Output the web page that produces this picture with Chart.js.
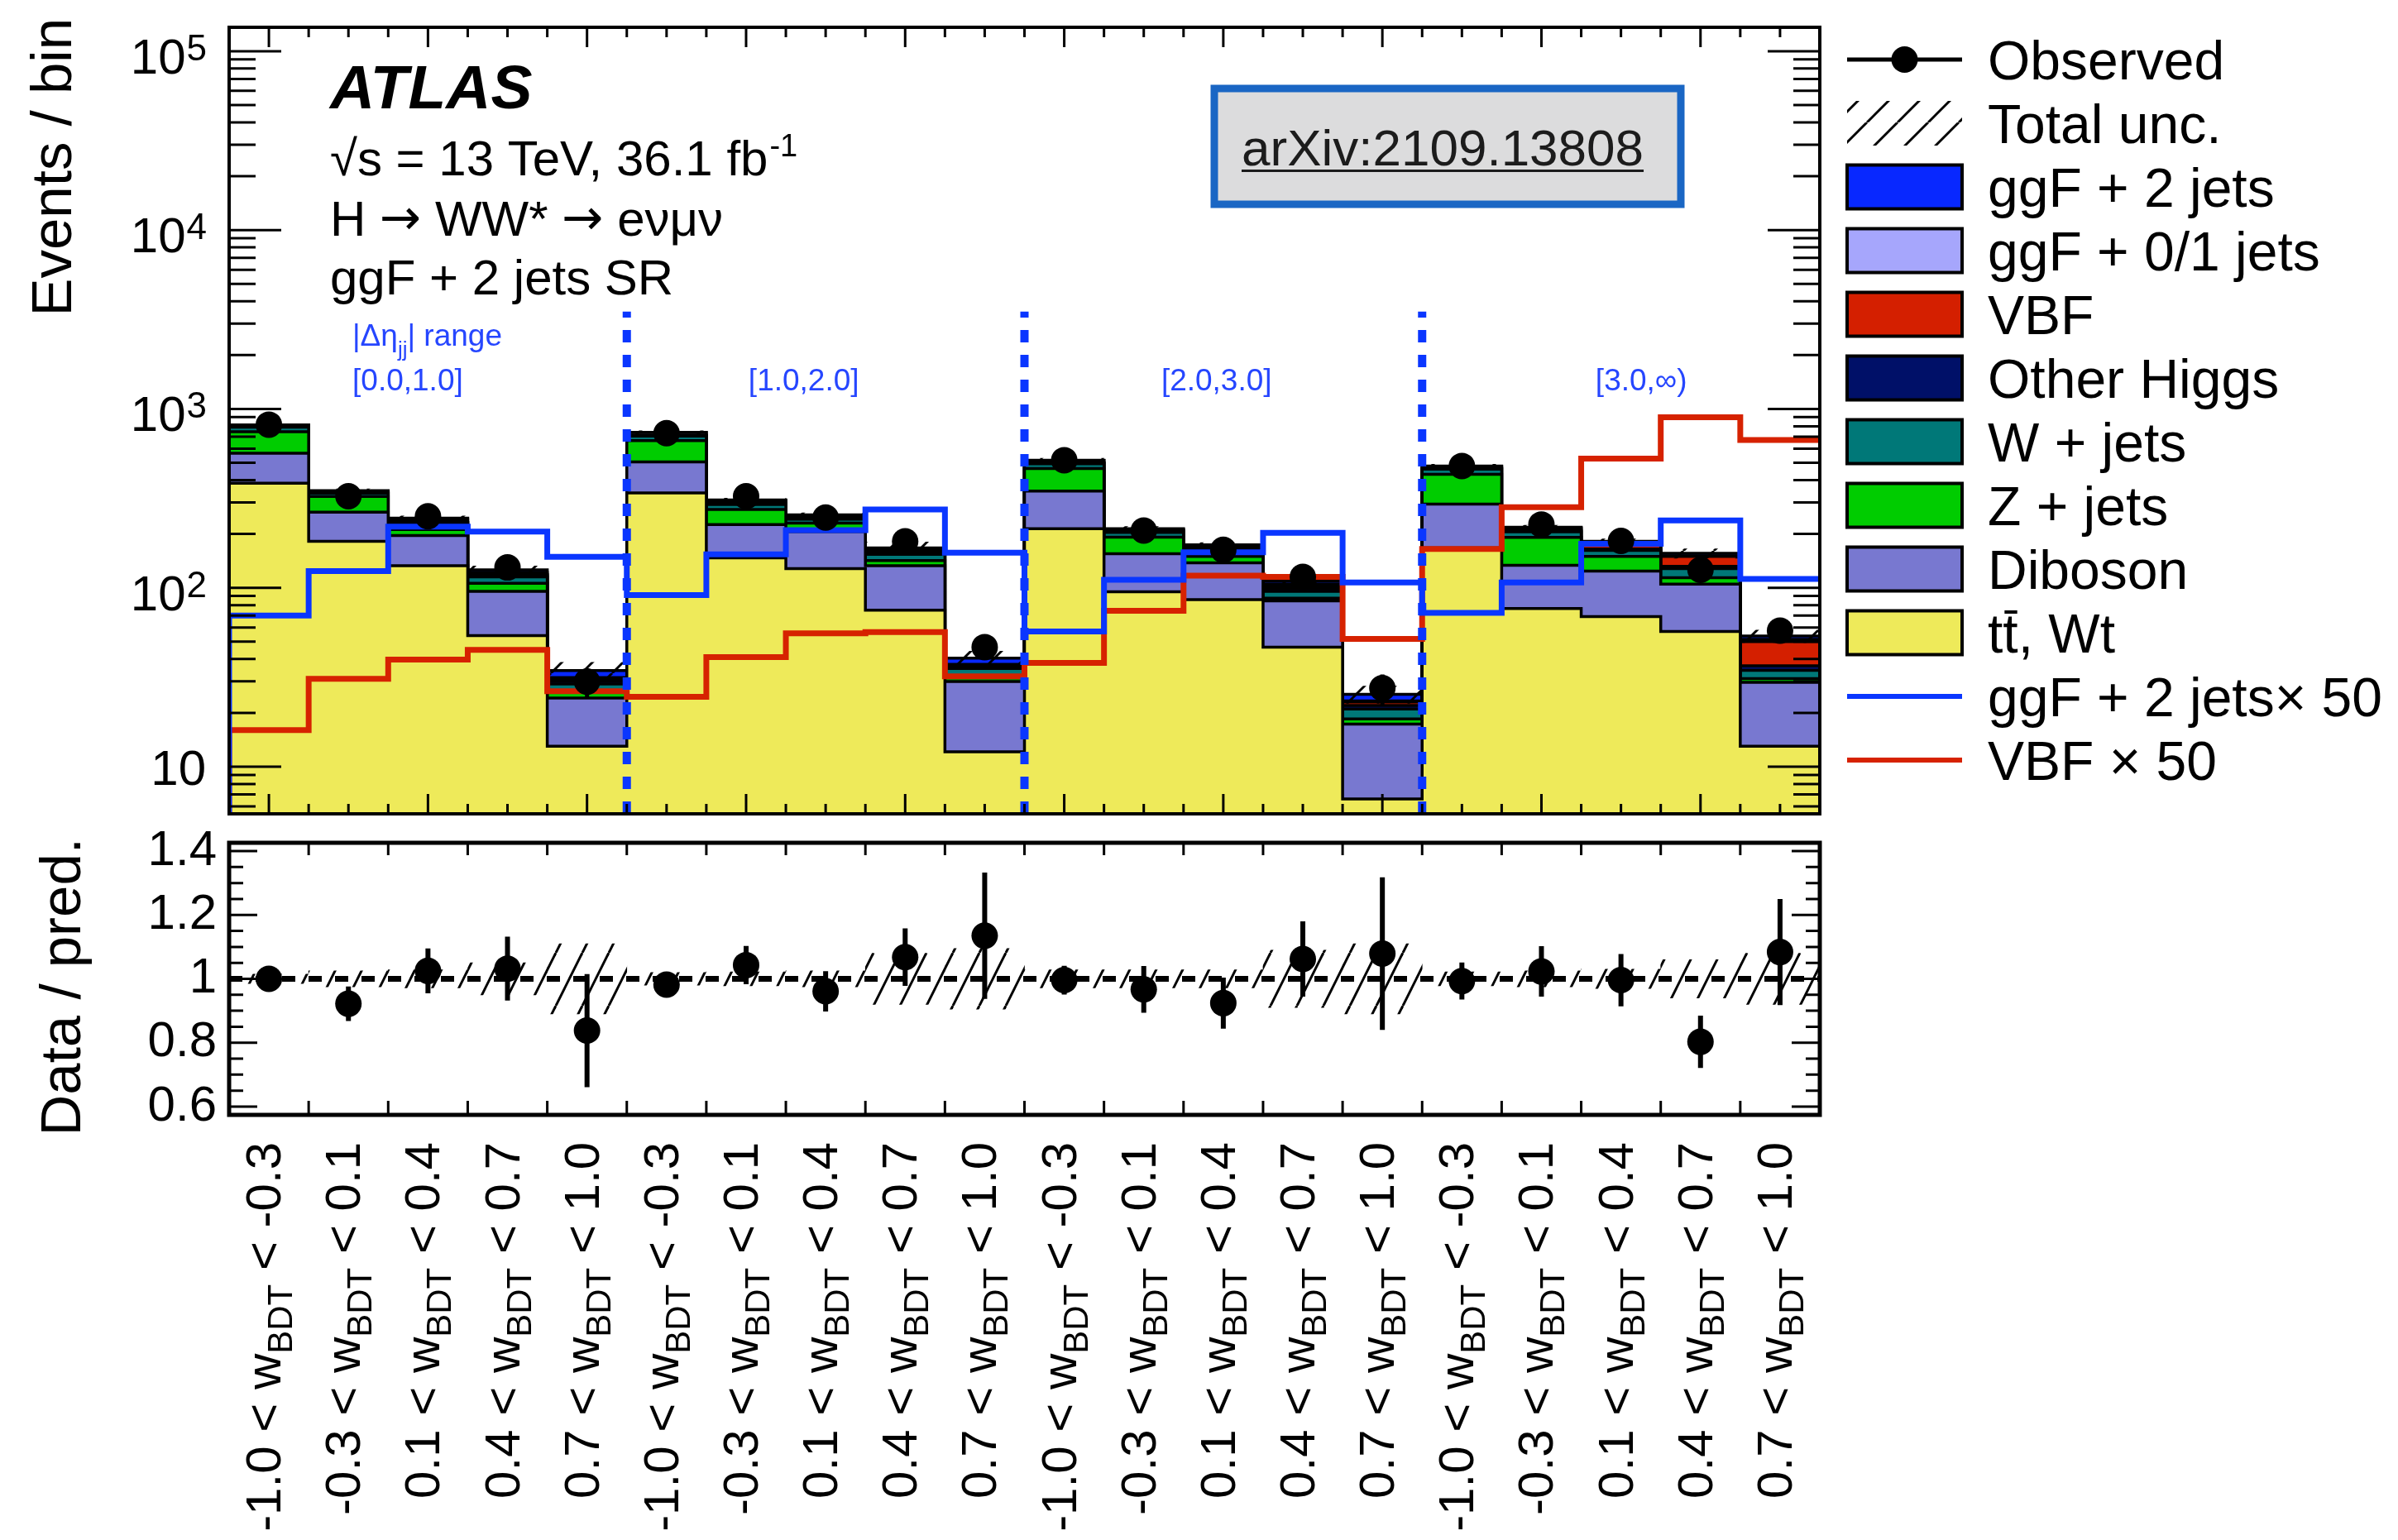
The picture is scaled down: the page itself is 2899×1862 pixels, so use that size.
<!DOCTYPE html>
<html>
<head>
<meta charset="utf-8">
<title>ggF + 2 jets SR</title>
<script src="https://cdn.jsdelivr.net/npm/chart.js@4/dist/chart.umd.min.js"></script>
<style>
  html, body { margin: 0; padding: 0; background: #fff; }
  #wrap { position: relative; width: 2899px; height: 1862px; overflow: hidden; background: #fff; }
  canvas { position: absolute; left: 0; }
  #main-chart { top: 0; }
  #ratio-chart { top: 960px; }
</style>
</head>
<body>
<div id="wrap">
  <canvas id="main-chart" width="2899" height="1000"></canvas>
  <canvas id="ratio-chart" width="2899" height="902"></canvas>
</div>
<script>
// bins: 4 |deta_jj| ranges x 5 w_BDT ranges
var bdtEdges = ["-1.0", "-0.3", "0.1", "0.4", "0.7", "1.0"];
var detaRanges = ["[0.0,1.0]", "[1.0,2.0]", "[2.0,3.0]", "[3.0,\u221e)"];

// stacked predictions, bottom to top (events / bin)
var ttbarWt    = [384, 182, 133, 54, 13, 339, 147, 128, 75, 12.1, 214, 95, 86, 46.6, 6.6, 167, 76.5, 69, 57, 13];
var diboson    = [181, 83, 63, 41.5, 11.2, 166, 79, 78, 58, 17.8, 133, 60, 52, 38, 10.7, 127, 57, 55, 48, 16.6];
var zJets      = [180, 59, 16, 10.5, 1.8, 160, 48, 24, 9, 1.5, 117, 37, 12, 3, 1.2, 137, 58, 26, 9, 1.5];
var wJets      = [45, 14, 14, 9, 3, 40, 18, 12, 12, 4, 30, 12, 10, 8, 2.5, 30, 14, 12, 14, 3.5];
var otherHiggs = [8, 3, 5, 3, 1, 8, 4, 3, 3, 1, 6, 3, 3, 3, 1, 5, 3, 3, 4, 2];
var vbf        = [0.3, 0.6, 0.8, 0.9, 0.5, 0.5, 0.8, 1.1, 1.1, 0.6, 0.8, 1.5, 2.3, 2.3, 1, 3.3, 5.6, 10.6, 18, 13.4];
var ggf01      = [15, 5, 9, 3, 1, 25, 10, 5.7, 3.4, 0.3, 14, 3.3, 5.5, 4, 0.3, 9, 2, 3, 1, 1.5];
var ggf2j      = [1.4, 2.5, 4.4, 4.1, 3, 1.8, 3.1, 4.2, 5.5, 3.1, 1.1, 2.2, 3.2, 4, 2.1, 1.5, 2.1, 3.5, 4.8, 2.2];

// signal shapes scaled by 50
var ggf2jX50 = [70, 124, 220, 206, 149, 91, 154, 210, 274, 157, 57, 111, 158, 203, 107, 72.5, 107, 176, 238, 112];
var vbfX50   = [16, 31, 39.7, 45, 26.4, 24.6, 41, 55.6, 56.6, 32, 38, 74.4, 117, 115, 51.8, 165, 282, 528, 899, 670];

// data
var observed = [817, 325, 251, 130, 29.9, 732, 325, 247, 182, 46.6, 517, 209, 163, 115, 27.5, 480, 226, 183, 126, 57.6];
var observedErr = [29, 18, 16, 11.5, 5.5, 27, 18, 16, 13.5, 7, 23, 14.5, 13, 10.7, 5.3, 22, 15, 13.5, 11.2, 7.6];

// ratio panel
var ratio    = [1.0, 0.922, 1.025, 1.032, 0.838, 0.982, 1.043, 0.961, 1.068, 1.135, 0.996, 0.967, 0.924, 1.062, 1.079, 0.993, 1.023, 0.996, 0.803, 1.084];
var ratioErr = [0.035, 0.054, 0.07, 0.1, 0.177, 0.037, 0.06, 0.063, 0.09, 0.198, 0.045, 0.073, 0.08, 0.118, 0.239, 0.058, 0.079, 0.082, 0.082, 0.166];
var uncRel   = [0.015, 0.025, 0.028, 0.05, 0.11, 0.02, 0.022, 0.025, 0.08, 0.095, 0.028, 0.028, 0.028, 0.09, 0.11, 0.022, 0.025, 0.03, 0.06, 0.08];

var mainDecades = [1, 2, 3, 4, 5];
var ratioTicks = [0.6, 0.8, 1.0, 1.2, 1.4];
var separators = [5, 10, 15];

var FONT = "'Liberation Sans', Arial, Helvetica, sans-serif";
var SYM = "'DejaVu Sans', sans-serif";
var Y_MIN = 5.45, Y_MAX = 1.36e5, SEP_TOP = 3500;
var R_MIN = 0.574, R_MAX = 1.426;

var C_TT = "#eeea5a", C_DIB = "#7878d0", C_Z = "#00cc00", C_W = "#007878";
var C_OH = "#001068", C_VBF = "#d41f00", C_GGF01 = "#a6a6fc", C_GGF2J = "#0828ff";
var C_SIGBLUE = "#0a36ff", C_SIGRED = "#d62200", C_TXTBLUE = "#2646ff";

(function () {
  function stepPoints(values) {
    var pts = values.map(function (v, i) { return { x: i, y: v }; });
    pts.push({ x: values.length, y: values[values.length - 1] });
    return pts;
  }

  function makeHatch(w, h, lw) {
    var c = document.createElement("canvas");
    c.width = w; c.height = h;
    var g = c.getContext("2d");
    g.strokeStyle = "#000";
    g.lineWidth = lw;
    for (var k = -1; k <= 1; k++) {
      g.beginPath();
      g.moveTo(k * w, h);
      g.lineTo(k * w + w, 0);
      g.stroke();
    }
    return g.createPattern(c, "repeat");
  }

  var hatchMain = makeHatch(37, 37, 3);
  var hatchRatio = makeHatch(32, 64, 3);

  function drawParts(ctx, x, y, parts) {
    // parts: [text, fontPx, dy, family]
    parts.forEach(function (p) {
      ctx.font = p[1] + "px " + (p[3] || FONT);
      ctx.fillText(p[0], x, y + p[2]);
      x += ctx.measureText(p[0]).width;
    });
    return x;
  }

  function drawErrorBars(chart, values, errs, lw) {
    var ctx = chart.ctx, xs = chart.scales.x, ys = chart.scales.y;
    ctx.save();
    ctx.strokeStyle = "#000";
    ctx.lineWidth = lw;
    ctx.beginPath();
    values.forEach(function (v, i) {
      var px = xs.getPixelForValue(i + 0.5);
      ctx.moveTo(px, ys.getPixelForValue(v + errs[i]));
      ctx.lineTo(px, ys.getPixelForValue(Math.max(v - errs[i], ys.min)));
    });
    ctx.stroke();
    ctx.restore();
  }

  function drawLegend(ctx) {
    var items = [
      { label: "Observed", kind: "data" },
      { label: "Total unc.", kind: "hatch" },
      { label: "ggF + 2 jets", kind: "box", color: C_GGF2J },
      { label: "ggF + 0/1 jets", kind: "box", color: C_GGF01 },
      { label: "VBF", kind: "box", color: C_VBF },
      { label: "Other Higgs", kind: "box", color: C_OH },
      { label: "W + jets", kind: "box", color: C_W },
      { label: "Z + jets", kind: "box", color: C_Z },
      { label: "Diboson", kind: "box", color: C_DIB },
      { label: "tt, Wt", kind: "box", color: C_TT, bar: true },
      { label: "ggF + 2 jets\u00d7 50", kind: "line", color: C_SIGBLUE },
      { label: "VBF \u00d7 50", kind: "line", color: C_SIGRED }
    ];
    var bx = 2233, bw = 139, bh = 53, tx = 2403;
    ctx.save();
    items.forEach(function (it, k) {
      var cy = 72 + k * 77;
      if (it.kind === "data") {
        ctx.strokeStyle = "#000"; ctx.lineWidth = 5;
        ctx.beginPath(); ctx.moveTo(bx, cy); ctx.lineTo(bx + bw, cy); ctx.stroke();
        ctx.fillStyle = "#000";
        ctx.beginPath(); ctx.arc(bx + bw / 2, cy, 16, 0, Math.PI * 2); ctx.fill();
      } else if (it.kind === "hatch") {
        ctx.fillStyle = hatchMain;
        ctx.fillRect(bx, cy - 27, bw, 54);
      } else if (it.kind === "box") {
        ctx.fillStyle = it.color;
        ctx.fillRect(bx, cy - bh / 2, bw, bh);
        ctx.strokeStyle = "#000"; ctx.lineWidth = 4;
        ctx.strokeRect(bx, cy - bh / 2, bw, bh);
      } else {
        ctx.strokeStyle = it.color; ctx.lineWidth = 6;
        ctx.beginPath(); ctx.moveTo(bx, cy); ctx.lineTo(bx + bw, cy); ctx.stroke();
      }
      ctx.fillStyle = "#000";
      ctx.font = "66px " + FONT;
      ctx.textAlign = "left";
      ctx.textBaseline = "alphabetic";
      ctx.fillText(it.label, tx, cy + 24);
      if (it.bar) {
        var tw = ctx.measureText("t").width;
        ctx.fillRect(tx + tw + 2, cy - 27, tw - 3, 4);
      }
    });
    ctx.restore();
  }

  var mainDecor = {
    id: "mainDecor",
    afterDatasetsDraw: function (chart) {
      drawErrorBars(chart, observed, observedErr, 5);
    },
    afterDraw: function (chart) {
      var ctx = chart.ctx, a = chart.chartArea, xs = chart.scales.x, ys = chart.scales.y;
      ctx.save();
      // inward ticks
      ctx.strokeStyle = "#000";
      ctx.lineWidth = 3;
      ctx.beginPath();
      for (var d = 0; d <= 5; d++) {
        for (var m = 1; m <= 9; m++) {
          var v = m * Math.pow(10, d);
          if (v < Y_MIN || v > Y_MAX) continue;
          var py = ys.getPixelForValue(v), len = m === 1 ? 63 : 32;
          ctx.moveTo(a.left, py); ctx.lineTo(a.left + len, py);
          ctx.moveTo(a.right, py); ctx.lineTo(a.right - len, py);
        }
      }
      for (var t = 0.5; t < 20; t += 0.5) {
        var px = xs.getPixelForValue(t), l2 = ((t - 0.5) % 2 === 0) ? 24 : 12;
        ctx.moveTo(px, a.bottom); ctx.lineTo(px, a.bottom - l2);
        ctx.moveTo(px, a.top); ctx.lineTo(px, a.top + l2);
      }
      ctx.stroke();
      ctx.lineWidth = 4;
      ctx.strokeRect(a.left, a.top, a.right - a.left, a.bottom - a.top);

      // y tick labels with exponents
      ctx.fillStyle = "#000";
      ctx.textBaseline = "alphabetic";
      mainDecades.forEach(function (dd) {
        var py2 = ys.getPixelForValue(Math.pow(10, dd));
        if (dd === 1) {
          ctx.font = "60px " + FONT; ctx.textAlign = "right";
          ctx.fillText("10", 249, py2 + 22);
        } else {
          ctx.font = "44px " + FONT; ctx.textAlign = "right";
          var sw = ctx.measureText(String(dd)).width;
          ctx.fillText(String(dd), 250, py2 + 11);
          ctx.font = "60px " + FONT;
          ctx.fillText("10", 250 - sw - 1, py2 + 27);
        }
      });

      // axis title
      ctx.save();
      ctx.translate(86, 22);
      ctx.rotate(-Math.PI / 2);
      ctx.font = "69px " + FONT;
      ctx.textAlign = "right";
      ctx.fillText("Events / bin", 0, 0);
      ctx.restore();

      // labels
      ctx.textAlign = "left";
      ctx.font = "italic bold 75px " + FONT;
      ctx.fillText("ATLAS", 399, 131);
      ctx.font = "60px " + FONT;
      var s1 = "\u221as = 13 TeV, 36.1 fb";
      ctx.fillText(s1, 399, 212);
      var w1 = ctx.measureText(s1).width;
      ctx.font = "38px " + FONT;
      ctx.fillText("-1", 399 + w1 + 2, 189);
      drawParts(ctx, 399, 285, [
        ["H ", 60, 0], ["\u2192", 60, -2, SYM], [" WW* ", 60, 0],
        ["\u2192", 60, -2, SYM], [" e\u03bd\u03bc\u03bd", 60, 0]
      ]);
      ctx.font = "60px " + FONT;
      ctx.fillText("ggF + 2 jets SR", 399, 356);

      // |deta_jj| ranges
      ctx.fillStyle = C_TXTBLUE;
      drawParts(ctx, 426, 418, [["|\u0394\u03b7", 37, 0], ["jj", 26, 13], ["| range", 37, 0]]);
      var rangeX = [1.55, 6.53, 11.72, 17.18];
      ctx.font = "37px " + FONT;
      detaRanges.forEach(function (r, k) {
        ctx.fillText(r, xs.getPixelForValue(rangeX[k]), 472);
      });

      // arXiv box
      ctx.fillStyle = "#dcdcdd";
      ctx.fillRect(1468, 107, 564, 140);
      ctx.strokeStyle = "#1a66c4";
      ctx.lineWidth = 9;
      ctx.strokeRect(1468, 107, 564, 140);
      ctx.fillStyle = "#1c1c1c";
      ctx.font = "62px " + FONT;
      var arx = "arXiv:2109.13808";
      ctx.fillText(arx, 1501, 200);
      ctx.fillRect(1501, 205, ctx.measureText(arx).width, 3);

      drawLegend(ctx);
      ctx.restore();
    }
  };

  var ratioDecor = {
    id: "ratioDecor",
    afterDatasetsDraw: function (chart) {
      drawErrorBars(chart, ratio, ratioErr, 6);
    },
    afterDraw: function (chart) {
      var ctx = chart.ctx, a = chart.chartArea, xs = chart.scales.x, ys = chart.scales.y;
      ctx.save();
      ctx.strokeStyle = "#000";
      ctx.lineWidth = 3;
      ctx.beginPath();
      for (var k = 12; k <= 28; k++) {
        var py = ys.getPixelForValue(k * 0.05), len = k % 4 === 0 ? 34 : 17;
        ctx.moveTo(a.left, py); ctx.lineTo(a.left + len, py);
        ctx.moveTo(a.right, py); ctx.lineTo(a.right - len, py);
      }
      for (var e = 1; e < 20; e++) {
        var px = xs.getPixelForValue(e);
        ctx.moveTo(px, a.bottom); ctx.lineTo(px, a.bottom - 17);
        ctx.moveTo(px, a.top); ctx.lineTo(px, a.top + 15);
      }
      ctx.stroke();
      ctx.lineWidth = 5;
      ctx.strokeRect(a.left, a.top, a.right - a.left, a.bottom - a.top);

      ctx.fillStyle = "#000";
      ctx.textBaseline = "alphabetic";
      ctx.save();
      ctx.translate(97, 1013 - 960);
      ctx.rotate(-Math.PI / 2);
      ctx.font = "69px " + FONT;
      ctx.textAlign = "right";
      ctx.fillText("Data / pred.", 0, 0);
      ctx.restore();

      // bin labels, rotated
      var topY = 1381 - 960;
      ctx.textAlign = "left";
      for (var i = 0; i < 20; i++) {
        var b = i % 5;
        var p1 = bdtEdges[b] + " < w", sub = "BDT", p2 = " < " + bdtEdges[b + 1];
        ctx.font = "60px " + FONT;
        var w1 = ctx.measureText(p1).width, w3 = ctx.measureText(p2).width;
        ctx.font = "42px " + FONT;
        var w2 = ctx.measureText(sub).width;
        var tot = w1 + w2 + w3;
        ctx.save();
        ctx.translate(xs.getPixelForValue(i + 0.5) + 14, topY);
        ctx.rotate(-Math.PI / 2);
        ctx.font = "60px " + FONT;
        ctx.fillText(p1, -tot, 0);
        ctx.font = "42px " + FONT;
        ctx.fillText(sub, -tot + w1, 14);
        ctx.font = "60px " + FONT;
        ctx.fillText(p2, -tot + w1 + w2, 0);
        ctx.restore();
      }
      ctx.restore();
    }
  };

  // ----- main panel datasets -----
  var stackDefs = [
    { values: ttbarWt, color: C_TT },
    { values: diboson, color: C_DIB },
    { values: zJets, color: C_Z },
    { values: wJets, color: C_W },
    { values: otherHiggs, color: C_OH },
    { values: vbf, color: C_VBF },
    { values: ggf01, color: C_GGF01 },
    { values: ggf2j, color: C_GGF2J }
  ];
  var mainSets = [];
  var cum = ttbarWt.map(function () { return 0; });
  stackDefs.forEach(function (d, k) {
    cum = cum.map(function (c, i) { return c + d.values[i]; });
    mainSets.push({
      type: "line",
      data: stepPoints(cum),
      stepped: true,
      fill: "start",
      backgroundColor: d.color,
      borderColor: "#000",
      borderWidth: 3.5,
      pointRadius: 0,
      order: 100 + k
    });
  });
  var total = cum;

  mainSets.push({
    type: "bar",
    data: total.map(function (t, i) {
      return { x: i + 0.5, y: [t * (1 - uncRel[i]), t * (1 + uncRel[i])] };
    }),
    backgroundColor: hatchMain,
    borderWidth: 0,
    barPercentage: 1,
    categoryPercentage: 1,
    grouped: false,
    order: 50
  });

  [[ggf2jX50, C_SIGBLUE], [vbfX50, C_SIGRED]].forEach(function (s) {
    mainSets.push({
      type: "line",
      data: [{ x: 0, y: Y_MIN }].concat(stepPoints(s[0])),
      stepped: true,
      fill: false,
      borderColor: s[1],
      borderWidth: 7,
      pointRadius: 0,
      order: 10
    });
  });

  separators.forEach(function (sx) {
    mainSets.push({
      type: "line",
      data: [{ x: sx, y: Y_MIN }, { x: sx, y: SEP_TOP }],
      borderColor: C_SIGBLUE,
      borderWidth: 10,
      borderDash: [15, 15],
      fill: false,
      pointRadius: 0,
      order: 5
    });
  });

  mainSets.push({
    type: "line",
    data: observed.map(function (v, i) { return { x: i + 0.5, y: v }; }),
    showLine: false,
    pointRadius: 16,
    pointBackgroundColor: "#000",
    pointBorderWidth: 0,
    order: 0
  });

  new Chart(document.getElementById("main-chart"), {
    type: "line",
    data: { datasets: mainSets },
    options: {
      responsive: false,
      animation: false,
      devicePixelRatio: 1,
      layout: { padding: { top: 33, right: 699, bottom: 15, left: 0 } },
      plugins: { legend: { display: false }, tooltip: { enabled: false } },
      scales: {
        x: { type: "linear", min: 0, max: 20, offset: false, display: false },
        y: {
          type: "logarithmic",
          min: Y_MIN,
          max: Y_MAX,
          grid: { display: false, drawTicks: false },
          border: { display: false },
          ticks: { display: false },
          afterFit: function (s) { s.width = 277; }
        }
      }
    },
    plugins: [mainDecor]
  });

  // ----- ratio panel -----
  var ratioSets = [
    {
      type: "line",
      data: ratio.map(function (v, i) { return { x: i + 0.5, y: v }; }),
      showLine: false,
      pointRadius: 16,
      pointBackgroundColor: "#000",
      pointBorderWidth: 0,
      order: 0
    },
    {
      type: "line",
      data: [{ x: 0, y: 1 }, { x: 20, y: 1 }],
      borderColor: "#000",
      borderWidth: 7,
      borderDash: [16, 16],
      pointRadius: 0,
      fill: false,
      order: 1
    },
    {
      type: "bar",
      data: uncRel.map(function (u, i) { return { x: i + 0.5, y: [1 - u, 1 + u] }; }),
      backgroundColor: hatchRatio,
      borderWidth: 0,
      barPercentage: 1,
      categoryPercentage: 1,
      grouped: false,
      order: 2
    }
  ];

  new Chart(document.getElementById("ratio-chart"), {
    type: "line",
    data: { datasets: ratioSets },
    options: {
      responsive: false,
      animation: false,
      devicePixelRatio: 1,
      layout: { padding: { top: 59, right: 699, bottom: 514, left: 0 } },
      plugins: { legend: { display: false }, tooltip: { enabled: false } },
      scales: {
        x: { type: "linear", min: 0, max: 20, offset: false, display: false },
        y: {
          type: "linear",
          min: R_MIN,
          max: R_MAX,
          grid: { display: false, drawTicks: false },
          border: { display: false },
          afterBuildTicks: function (s) {
            s.ticks = ratioTicks.map(function (v) { return { value: v }; });
          },
          ticks: {
            autoSkip: false,
            padding: 15,
            color: "#000",
            font: { family: FONT, size: 60 },
            callback: function (v) { return v === 1 ? "1" : v.toFixed(1); }
          },
          afterFit: function (s) { s.width = 277; }
        }
      }
    },
    plugins: [ratioDecor]
  });
})();
</script>
</body>
</html>
